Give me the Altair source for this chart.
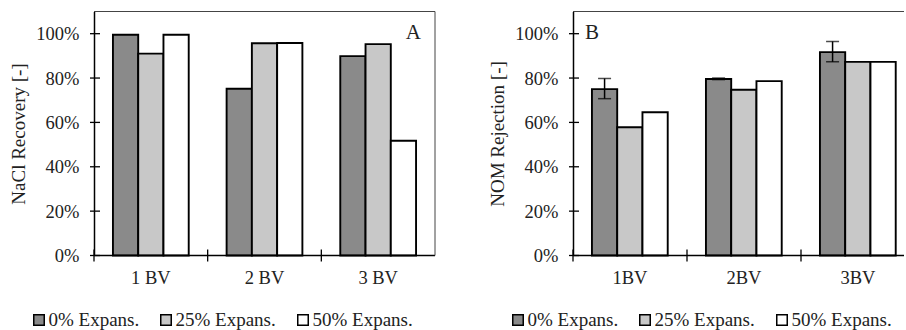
import altair as alt
import pandas as pd

# ---------------- data ----------------
series = ["0% Expans.", "25% Expans.", "50% Expans."]
colors = ["#8a8a8a", "#c8c8c8", "#ffffff"]

cats_a = ["1 BV", "2 BV", "3 BV"]
nacl_0 = [99.5, 75.2, 89.9]
nacl_25 = [91.0, 95.7, 95.3]
nacl_50 = [99.5, 95.8, 51.7]

cats_b = ["1BV", "2BV", "3BV"]
nom_0 = [75.0, 79.6, 91.7]
nom_25 = [57.8, 74.7, 87.3]
nom_50 = [64.6, 78.6, 87.3]
nom_0_lo = [70.7, 79.3, 87.3]
nom_0_hi = [79.8, 80.0, 96.5]

y_ticks = [0, 20, 40, 60, 80, 100]
panel_labels = ["A", "B"]
y_titles = ["NaCl Recovery [-]", "NOM Rejection [-]"]

FONT = "Liberation Serif"
TXT = "#222222"
H = 244


def long_df(cats, vals):
    rows = []
    for s, v in zip(series, vals):
        for c, x in zip(cats, v):
            rows.append({"cat": c, "series": s, "value": x})
    return pd.DataFrame(rows)


df_a = long_df(cats_a, [nacl_0, nacl_25, nacl_50])
df_b = long_df(cats_b, [nom_0, nom_25, nom_50])
df_err = pd.DataFrame({"cat": cats_b, "series": series[0], "lo": nom_0_lo, "hi": nom_0_hi})
df_caps = pd.concat([
    df_err[["cat", "series"]].assign(v=df_err["lo"]),
    df_err[["cat", "series"]].assign(v=df_err["hi"]),
])


def panel(df, cats, width, xrange, pad_outer, ytitle, label, label_x, label_align,
          right_border, xlabel_size, err=None, caps=None):
    xscale = alt.Scale(domain=cats, paddingInner=0, paddingOuter=0, range=xrange)
    xoff = alt.Scale(domain=series, paddingInner=0, paddingOuter=pad_outer)
    yscale = alt.Scale(domain=[0, 110], nice=False)

    def X(**kw):
        return alt.X("cat:N", scale=xscale, sort=cats, axis=None, **kw)

    color = alt.Color(
        "series:N",
        scale=alt.Scale(domain=series, range=colors),
        legend=alt.Legend(
            title=None, orient="none", legendX=-64.5, legendY=298.75,
            direction="horizontal", symbolType="square", symbolSize=110,
            symbolStrokeColor="black", symbolStrokeWidth=1.5,
            labelFont=FONT, labelFontSize=19, labelColor=TXT,
            labelOffset=0, columnPadding=17,
        ),
    )
    bars = alt.Chart(df).mark_bar(stroke="black", strokeWidth=1.9).encode(
        x=X(),
        xOffset=alt.XOffset("series:N", scale=xoff, sort=series),
        y=alt.Y("value:Q", scale=yscale,
                axis=alt.Axis(values=y_ticks, labelExpr="datum.value + '%'", ticks=False,
                              labelPadding=15, grid=False, domainColor="black", domainWidth=1.5,
                              title=ytitle, titleX=-76, titleY=H / 2, titleAngle=-90,
                              titleBaseline="middle", titleAlign="center")),
        color=color,
    )
    cat_df = pd.DataFrame({"cat": cats})
    xlabels = alt.Chart(cat_df).mark_text(
        font=FONT, fontSize=xlabel_size, color=TXT, baseline="top", align="center").encode(
        x=X(), text="cat:N", y=alt.value(H + 13.5))
    ytick_rules = alt.Chart(pd.DataFrame({"t": y_ticks})).mark_rule(
        color="black", strokeWidth=1.3).encode(
        y=alt.Y("t:Q", scale=yscale), x=alt.value(-4), x2=alt.value(6))
    xtick_rules = alt.Chart(cat_df).mark_rule(
        color="black", strokeWidth=1.3).encode(
        x=X(bandPosition=0), y=alt.value(H - 6), y2=alt.value(H + 6))
    frame_top = alt.Chart(pd.DataFrame({"f": [0]})).mark_rule(
        color="#444444", strokeWidth=1).encode(
        x=alt.value(0), x2=alt.value(width), y=alt.value(0))
    base_line = alt.Chart(pd.DataFrame({"f": [0]})).mark_rule(
        color="black", strokeWidth=1.5).encode(
        x=alt.value(0), x2=alt.value(width), y=alt.value(H))
    txt = alt.Chart(pd.DataFrame({"t": [label]})).mark_text(
        font=FONT, fontSize=21, color=TXT, align=label_align, baseline="alphabetic").encode(
        text="t:N", x=alt.value(label_x), y=alt.value(27))
    layers = [bars, xlabels, ytick_rules, xtick_rules, frame_top, base_line, txt]
    if right_border:
        layers.append(alt.Chart(pd.DataFrame({"f": [0]})).mark_rule(
            color="#444444", strokeWidth=1).encode(
            x=alt.value(width), y=alt.value(0), y2=alt.value(H)))
    if err is not None:
        errbar = alt.Chart(err).mark_rule(color="black", strokeWidth=1.5).encode(
            x=X(),
            xOffset=alt.XOffset("series:N", scale=xoff, sort=series),
            y=alt.Y("lo:Q", scale=yscale), y2="hi:Q")
        capm = alt.Chart(caps).mark_tick(color="black", thickness=1.5, size=13,
                                         orient="horizontal").encode(
            x=X(),
            xOffset=alt.XOffset("series:N", scale=xoff, sort=series),
            y=alt.Y("v:Q", scale=yscale))
        layers += [errbar, capm]
    return alt.layer(*layers).properties(width=width, height=H)


pa = panel(df_a, cats_a, 341, [0, 341], 0.75, y_titles[0], panel_labels[0], 327, "right",
           True, 18.5)
pb = panel(df_b, cats_b, 331, [0, 342], 0.5, y_titles[1], panel_labels[1], 12, "left",
           False, 18.5, err=df_err, caps=df_caps)

chart = alt.hconcat(pa, pb, spacing=138, bounds="flush").resolve_legend(
    color="independent"
).properties(
    padding={"left": 8, "top": 10.5, "right": 0, "bottom": 0}
).configure(font=FONT).configure_view(
    strokeWidth=0
).configure_axis(
    labelFont=FONT, labelFontSize=18.5, labelColor=TXT,
    titleFont=FONT, titleFontSize=19, titleFontWeight="normal", titleColor=TXT,
)

chart.save("out.html", embed_options={"renderer": "svg", "actions": False})
